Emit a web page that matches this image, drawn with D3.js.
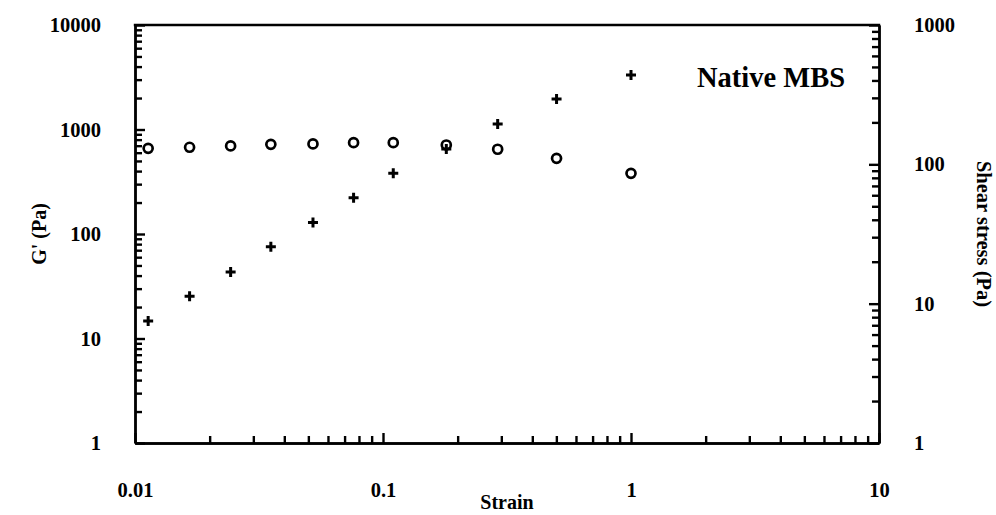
<!DOCTYPE html>
<html>
<head>
<meta charset="utf-8">
<script src="https://cdn.jsdelivr.net/npm/d3@7"></script>
<style>
  body { margin: 0; background: #fff; }
  svg text { font-family: "Liberation Serif", "Times New Roman", serif; font-weight: bold; fill: #000; }
  .axis path, .axis line { stroke: #000; stroke-width: 2.4; }
</style>
</head>
<body>
<script>
// strain values (x), shared by both series
var strain = [0.0113, 0.0166, 0.0243, 0.0353, 0.0522, 0.0761, 0.110, 0.180, 0.290, 0.501, 1.0];
// storage modulus G' (Pa), left axis, circles
var gPrime = [661, 676, 696, 721, 727, 748, 748, 711, 647, 530, 381];
// shear stress (Pa), right axis, crosses
var shearStress = [7.5, 11.3, 16.9, 25.6, 38.3, 57.6, 86.2, 129, 195, 294, 437];

var xTicks = [0.01, 0.1, 1, 10];
var yLeftTicks = [1, 10, 100, 1000, 10000];
var yRightTicks = [1, 10, 100, 1000];

var width = 996, height = 515;
var margin = {left: 135, right: 117, top: 25, bottom: 72};

var svg = d3.select("body").append("svg")
    .attr("width", width)
    .attr("height", height);

var x = d3.scaleLog().domain([0.01, 10]).range([margin.left, width - margin.right]);
var yL = d3.scaleLog().domain([1, 10000]).range([height - margin.bottom, margin.top]);
var yR = d3.scaleLog().domain([1, 1000]).range([height - margin.bottom, margin.top]);

// minor tick values: 2..9 of every decade
function minors(lo, hi){
    var out = [];
    for (var d = lo; d < hi; d *= 10){
        for (var k = 2; k <= 9; k++) out.push(d * k);
    }
    return out;
}

var x0 = x.range()[0], x1 = x.range()[1];
var yb = yL.range()[0], yt = yL.range()[1];

// bottom axis
svg.append("g").attr("class", "axis")
    .attr("transform", "translate(0," + yb + ")")
    .call(d3.axisBottom(x).tickValues(minors(0.01, 10)).tickSize(-7).tickSizeOuter(0).tickFormat(""));
svg.append("g").attr("class", "axis")
    .attr("transform", "translate(0," + yb + ")")
    .call(d3.axisBottom(x).tickValues(xTicks).tickSize(-10).tickSizeOuter(0).tickPadding(39)
        .tickFormat(function(d){ return String(d); }))
    .selectAll("text").style("font-size", "20.5px");

// left axis
svg.append("g").attr("class", "axis")
    .attr("transform", "translate(" + x0 + ",0)")
    .call(d3.axisLeft(yL).tickValues(minors(1, 10000)).tickSize(-7).tickSizeOuter(0).tickFormat(""));
svg.append("g").attr("class", "axis")
    .attr("transform", "translate(" + x0 + ",0)")
    .call(d3.axisLeft(yL).tickValues(yLeftTicks).tickSize(-10).tickSizeOuter(0).tickPadding(34)
        .tickFormat(function(d){ return String(d); }))
    .selectAll("text").style("font-size", "20.5px");

// right axis
svg.append("g").attr("class", "axis")
    .attr("transform", "translate(" + x1 + ",0)")
    .call(d3.axisRight(yR).tickValues(minors(1, 1000)).tickSize(-7).tickSizeOuter(0).tickFormat(""));
svg.append("g").attr("class", "axis")
    .attr("transform", "translate(" + x1 + ",0)")
    .call(d3.axisRight(yR).tickValues(yRightTicks).tickSize(-10).tickSizeOuter(0).tickPadding(35)
        .tickFormat(function(d){ return String(d); }))
    .selectAll("text").style("font-size", "20.5px");

// top border
svg.append("line")
    .attr("x1", x0 - 1.2).attr("x2", x1 + 1.2).attr("y1", yt).attr("y2", yt)
    .attr("stroke", "#000").attr("stroke-width", 2.4);

// axis titles
svg.append("text")
    .attr("x", (x0 + x1) / 2).attr("y", 509)
    .attr("text-anchor", "middle")
    .style("font-size", "20px")
    .text("Strain");
svg.append("text")
    .attr("transform", "translate(46," + (yt + yb) / 2 + ") rotate(-90)")
    .attr("text-anchor", "middle")
    .style("font-size", "20px")
    .text("G' (Pa)");
svg.append("text")
    .attr("transform", "translate(977," + (yt + yb) / 2 + ") rotate(90)")
    .attr("text-anchor", "middle")
    .style("font-size", "20.5px")
    .text("Shear stress (Pa)");

// annotation
svg.append("text")
    .attr("x", 697).attr("y", 87)
    .style("font-size", "28.5px")
    .text("Native MBS");

// G' circles
svg.selectAll(".gp")
    .data(strain)
    .enter().append("circle")
    .attr("class", "gp")
    .attr("cx", function(d){ return x(d); })
    .attr("cy", function(d, i){ return yL(gPrime[i]); })
    .attr("r", 4.5)
    .attr("fill", "none")
    .attr("stroke", "#000")
    .attr("stroke-width", 2.7);

// shear stress crosses
svg.selectAll(".ss")
    .data(strain)
    .enter().append("path")
    .attr("class", "ss")
    .attr("transform", function(d, i){ return "translate(" + x(d) + "," + yR(shearStress[i]) + ")"; })
    .attr("d", "M-5,0H5M0,-5V5")
    .attr("stroke", "#000")
    .attr("stroke-width", 3);
</script>
</body>
</html>
